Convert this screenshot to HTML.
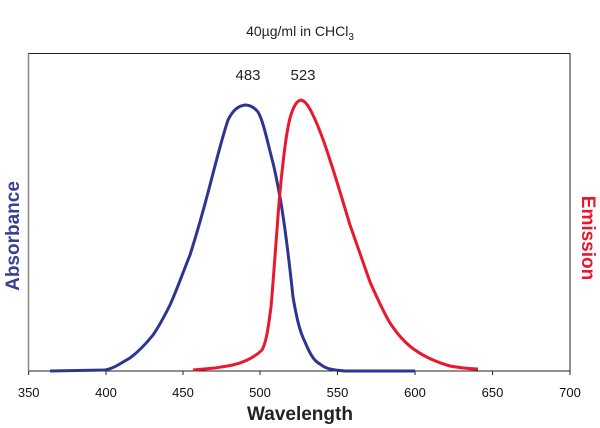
<!DOCTYPE html>
<html><head><style>body{margin:0;background:#fff}svg{display:block}</style></head><body>
<svg width="600" height="428" xmlns="http://www.w3.org/2000/svg" font-family="Liberation Sans, sans-serif">
<rect x="28.5" y="53.5" width="541.5" height="317.5" fill="none" stroke="#222" stroke-width="1"/>
<line x1="28.5" y1="53.5" x2="28.5" y2="371" stroke="#888" stroke-width="1.5"/>
<g stroke="#222" stroke-width="1">
<line x1="28.7" y1="371" x2="28.7" y2="375"/><line x1="106" y1="371" x2="106" y2="375"/><line x1="183" y1="371" x2="183" y2="375"/><line x1="260" y1="371" x2="260" y2="375"/><line x1="337.5" y1="371" x2="337.5" y2="375"/><line x1="415" y1="371" x2="415" y2="375"/><line x1="492.5" y1="371" x2="492.5" y2="375"/><line x1="570" y1="371" x2="570" y2="375"/>
</g>
<g font-size="13" fill="#111" text-anchor="middle">
<text x="28.7" y="397">350</text><text x="106" y="397">400</text><text x="183" y="397">450</text><text x="260" y="397">500</text><text x="337.5" y="397">550</text><text x="415" y="397">600</text><text x="492.5" y="397">650</text><text x="570" y="397">700</text>
</g>
<text x="300" y="36" font-size="14" text-anchor="middle" fill="#222">40µg/ml in CHCl<tspan font-size="10" dy="4">3</tspan></text>
<text x="248" y="80" font-size="15" text-anchor="middle" fill="#222">483</text>
<text x="303" y="80" font-size="15" text-anchor="middle" fill="#222">523</text>
<text x="300" y="420" font-size="19" font-weight="bold" text-anchor="middle" fill="#222">Wavelength</text>
<text transform="translate(19,236) rotate(-90)" font-size="19" font-weight="bold" text-anchor="middle" fill="#3a3f95">Absorbance</text>
<text transform="translate(582,238) rotate(90)" font-size="19" font-weight="bold" text-anchor="middle" fill="#e8182e">Emission</text>
<path fill="none" stroke="#2e3590" stroke-width="3" stroke-linejoin="round" d="M50,371 L105,370 C110,369 113,368 118,365 L130,358 C138,352 145,345 153,335 C160,325 165,315 170,305 C176,292 182,275 190,255 C197,233 203,212 210,185 C216,162 222,138 228,120 C233,110 238,106 245,105 C250,105 254,107 258,112 C263,120 267,140 273,163 C276,175 278,187 280,197 C284,220 288,250 293,297 C297,320 300,332 305,342 C310,354 314,361 320,364 C326,369 332,370 345,371 L415,371"/>
<path fill="none" stroke="#e8182e" stroke-width="3" stroke-linejoin="round" d="M193,370 L215,368 C228,366 236,365 245,361 C252,358 257,355 262,350 C266,343 268,330 271,307 C273,285 275,255 277,230 C279,200 281,180 283,163 C285,145 287,130 290,118 C293,108 296,101 301,100 C305,101 308,105 312,113 C317,123 322,135 330,160 C336,178 344,205 350,225 C357,245 364,265 370,282 C378,300 384,313 390,323 C398,335 406,344 415,350 C425,357 436,362 450,366 C462,368 470,369 478,369"/>
</svg>
</body></html>
